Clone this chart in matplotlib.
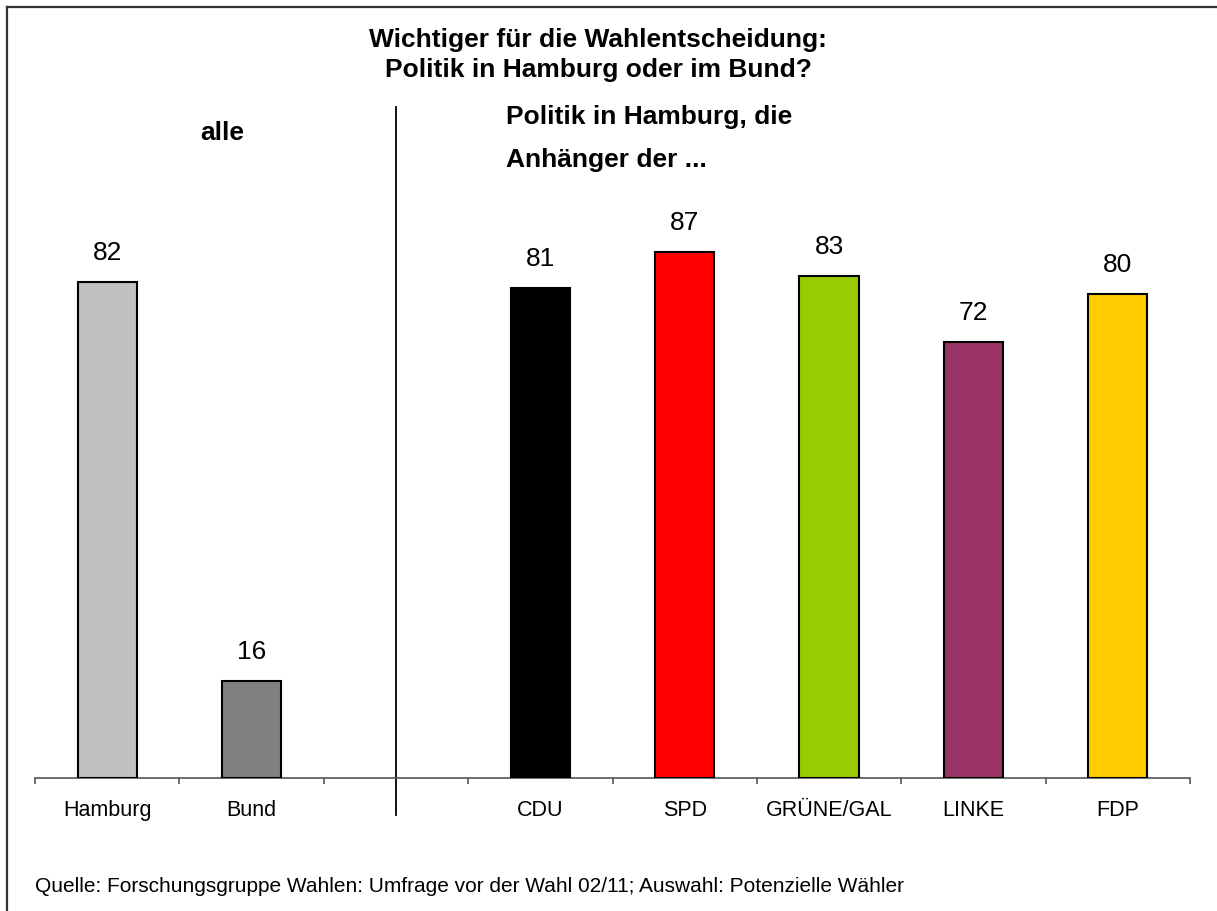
import numpy as np
import matplotlib.pyplot as plt
from matplotlib.lines import Line2D

plt.rcParams['font.family'] = ['Liberation Sans', 'DejaVu Sans']

# data
categories = ["Hamburg", "Bund", "", "CDU", "SPD", "GRÜNE/GAL", "LINKE", "FDP"]
values = [82, 16, None, 81, 87, 83, 72, 80]
colors = ["#C0C0C0", "#808080", None, "#000000", "#FF0000", "#99CC00", "#993366", "#FFCC00"]

W, H = 1217, 911
fig = plt.figure(figsize=(W / 100, H / 100), dpi=100)

# axes placed in pixel units
left, right, base, top = 35, 1190, 778, 173
ax = fig.add_axes([left / W, (H - base) / H, (right - left) / W, (base - top) / H])

x = np.arange(len(categories))
for xi, v, c in zip(x, values, colors):
    if v is None:
        continue
    ax.bar(xi, v, width=0.41, color=c, edgecolor="black", linewidth=1.5, zorder=3)
    ax.text(xi, v + 2.8, str(v), ha="center", va="bottom", fontsize=19)

ax.set_xlim(-0.5, len(categories) - 0.5)
ax.set_ylim(0, 100)
ax.set_yticks([])
for s in ["top", "right", "left"]:
    ax.spines[s].set_visible(False)
ax.spines["bottom"].set_color("#555555")
ax.spines["bottom"].set_linewidth(1.2)
ax.set_xticks(np.arange(-0.5, len(categories)), labels=[])
ax.tick_params(axis="x", which="major", length=4.5, width=1.2, color="#555555", direction="out")
ax.set_xticks(x, labels=categories, minor=True)
ax.tick_params(axis="x", which="minor", length=0, pad=16, labelsize=15.5)

# divider between "alle" and the party groups
ax.axvline(2, ymin=-0.0612, ymax=1.1095, color="black", linewidth=1.3, clip_on=False)

fig.text(598 / W, 1 - 40 / H, "Wichtiger für die Wahlentscheidung:", ha="center", va="center",
         fontsize=19, fontweight="bold")
fig.text(598 / W, 1 - 70 / H, "Politik in Hamburg oder im Bund?", ha="center", va="center",
         fontsize=19, fontweight="bold")
fig.text(222 / W, 1 - 133 / H, "alle", ha="center", va="center", fontsize=19, fontweight="bold")
fig.text(506 / W, 1 - 117 / H, "Politik in Hamburg, die", ha="left", va="center",
         fontsize=19, fontweight="bold")
fig.text(506 / W, 1 - 160 / H, "Anhänger der ...", ha="left", va="center",
         fontsize=19, fontweight="bold")
fig.text(35 / W, 1 - 892 / H,
         "Quelle: Forschungsgruppe Wahlen: Umfrage vor der Wahl 02/11; Auswahl: Potenzielle Wähler",
         ha="left", va="baseline", fontsize=15)

# frame (top and left edge only, the rest is cut off)
fig.add_artist(Line2D([7 / W, 1], [1 - 7 / H, 1 - 7 / H], transform=fig.transFigure,
                      color="#333333", linewidth=1.6))
fig.add_artist(Line2D([7 / W, 7 / W], [0, 1 - 7 / H], transform=fig.transFigure,
                      color="#333333", linewidth=1.6))

fig.savefig("out.png", dpi=100)
